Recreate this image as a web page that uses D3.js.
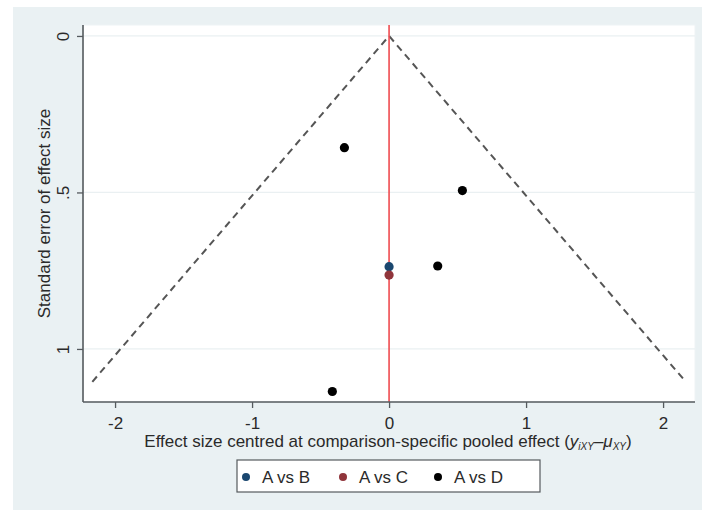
<!DOCTYPE html>
<html>
<head>
<meta charset="utf-8">
<script src="https://cdn.jsdelivr.net/npm/d3@7"></script>
<style>
  html, body { margin: 0; padding: 0; background: #ffffff; }
  svg { display: block; font-family: "Liberation Sans", Arial, sans-serif; }
</style>
</head>
<body>
<svg id="chart" width="702" height="513"></svg>
<script>
// Comparison-adjusted funnel plot data
const comparisons = ["A vs B", "A vs C", "A vs D"];
const comparisonColors = ["#1a476f", "#90353b", "#000000"];

// centred effect size for each study
const effectA_B = [0.0];
const effectA_C = [0.0];
const effectA_D = [-0.326, 0.535, 0.355, -0.414];
// standard error for each study
const seA_B = [0.737];
const seA_C = [0.764];
const seA_D = [0.357, 0.494, 0.735, 1.136];

const xTicks = [-2, -1, 0, 1, 2];
const xTickLabels = ["-2", "-1", "0", "1", "2"];
const yTicks = [0, 0.5, 1];
const yTickLabels = ["0", ".5", "1"];

const funnelMaxSE = 1.105;
const z = 1.96;

const series = [
  { name: comparisons[0], color: comparisonColors[0], x: effectA_B, y: seA_B },
  { name: comparisons[1], color: comparisonColors[1], x: effectA_C, y: seA_C },
  { name: comparisons[2], color: comparisonColors[2], x: effectA_D, y: seA_D }
];

const FONT = 17;
const TEXT = "#2a2a2a";

const svg = d3.select("#chart");

// outer graph region
svg.append("rect").attr("x", 13).attr("y", 7).attr("width", 689).attr("height", 503)
  .attr("fill", "#eaf1f3");

const plot = { left: 83, right: 695, top: 25, bottom: 402 };

const x = d3.scaleLinear().domain([-2.234, 2.233]).range([plot.left, plot.right]);
const y = d3.scaleLinear().domain([-0.035, 1.1695]).range([plot.top, plot.bottom]);

// plot region
svg.append("rect")
  .attr("x", plot.left).attr("y", plot.top)
  .attr("width", plot.right - plot.left).attr("height", plot.bottom - plot.top)
  .attr("fill", "#ffffff").attr("stroke", "#eef3f5").attr("stroke-width", 1);

// horizontal gridlines
svg.append("g").selectAll("line").data(yTicks).join("line")
  .attr("x1", plot.left).attr("x2", plot.right)
  .attr("y1", d => y(d)).attr("y2", d => y(d))
  .attr("stroke", "#eaf0f2").attr("stroke-width", 1.2);

// pseudo 95% confidence limits
const funnel = [[-z * funnelMaxSE, funnelMaxSE], [0, 0], [z * funnelMaxSE, funnelMaxSE]];
svg.append("path")
  .attr("d", d3.line().x(d => x(d[0])).y(d => y(d[1]))(funnel))
  .attr("fill", "none").attr("stroke", "#555555").attr("stroke-width", 2)
  .attr("stroke-dasharray", "7,5");

// zero line
svg.append("line")
  .attr("x1", x(0)).attr("x2", x(0)).attr("y1", plot.top).attr("y2", plot.bottom)
  .attr("stroke", "#ef4b50").attr("stroke-width", 1.6);

// study points
series.forEach(s => {
  svg.append("g").selectAll("circle").data(s.x.map((v, i) => [v, s.y[i]])).join("circle")
    .attr("cx", d => x(d[0])).attr("cy", d => y(d[1])).attr("r", 4.6)
    .attr("fill", s.color);
});

// axes
const xAxis = d3.axisBottom(x).tickValues(xTicks).tickFormat((d, i) => xTickLabels[i])
  .tickSize(6).tickSizeOuter(0);
const gx = svg.append("g").attr("transform", `translate(0,${plot.bottom})`).call(xAxis);
gx.select(".domain").attr("stroke", "#555a5e").attr("stroke-width", 1.6)
  .attr("d", `M${plot.left},0H${plot.right}`);
gx.selectAll(".tick line").attr("stroke", "#555a5e").attr("stroke-width", 1.3);
gx.selectAll(".tick text").attr("fill", TEXT).attr("font-size", FONT)
  .attr("font-family", "Liberation Sans, Arial, sans-serif")
  .attr("y", 27).attr("dy", null);

const yAxis = d3.axisLeft(y).tickValues(yTicks).tickFormat((d, i) => yTickLabels[i])
  .tickSize(6).tickSizeOuter(0);
const gy = svg.append("g").attr("transform", `translate(${plot.left},0)`).call(yAxis);
gy.select(".domain").attr("stroke", "#555a5e").attr("stroke-width", 1.6)
  .attr("d", `M0,${plot.top}V${plot.bottom}`);
gy.selectAll(".tick line").attr("stroke", "#555a5e").attr("stroke-width", 1.3);
gy.selectAll(".tick text").attr("fill", TEXT).attr("font-size", FONT)
  .attr("font-family", "Liberation Sans, Arial, sans-serif")
  .attr("x", null).attr("dy", null)
  .attr("text-anchor", "middle")
  .attr("transform", "translate(-14,0) rotate(-90)");

// axis titles
const xt = svg.append("text")
  .attr("x", 388).attr("y", 447)
  .attr("text-anchor", "middle").attr("font-size", FONT).attr("fill", TEXT);
xt.append("tspan").text("Effect size centred at comparison-specific pooled effect (");
xt.append("tspan").attr("font-style", "italic").text("y");
xt.append("tspan").attr("font-style", "italic").attr("font-size", 10).attr("dy", 3).text("iXY");
xt.append("tspan").attr("dy", -3).text("–");
xt.append("tspan").attr("font-style", "italic").text("μ");
xt.append("tspan").attr("font-style", "italic").attr("font-size", 10).attr("dy", 3).text("XY");
xt.append("tspan").attr("dy", -3).text(")");

svg.append("text")
  .attr("transform", `translate(50,${(plot.top + plot.bottom) / 2}) rotate(-90)`)
  .attr("text-anchor", "middle").attr("font-size", FONT).attr("fill", TEXT)
  .text("Standard error of effect size");

// legend
const legend = svg.append("g");
legend.append("rect").attr("x", 237).attr("y", 460).attr("width", 303).attr("height", 32)
  .attr("fill", "#ffffff").attr("stroke", "#555a5e").attr("stroke-width", 1.2);
const legendX = [246, 343, 438];
series.forEach((s, i) => {
  legend.append("circle").attr("cx", legendX[i]).attr("cy", 477).attr("r", 4)
    .attr("fill", s.color);
  legend.append("text").attr("x", legendX[i] + 16).attr("y", 483)
    .attr("font-size", FONT).attr("fill", TEXT).text(s.name);
});
</script>
</body>
</html>
